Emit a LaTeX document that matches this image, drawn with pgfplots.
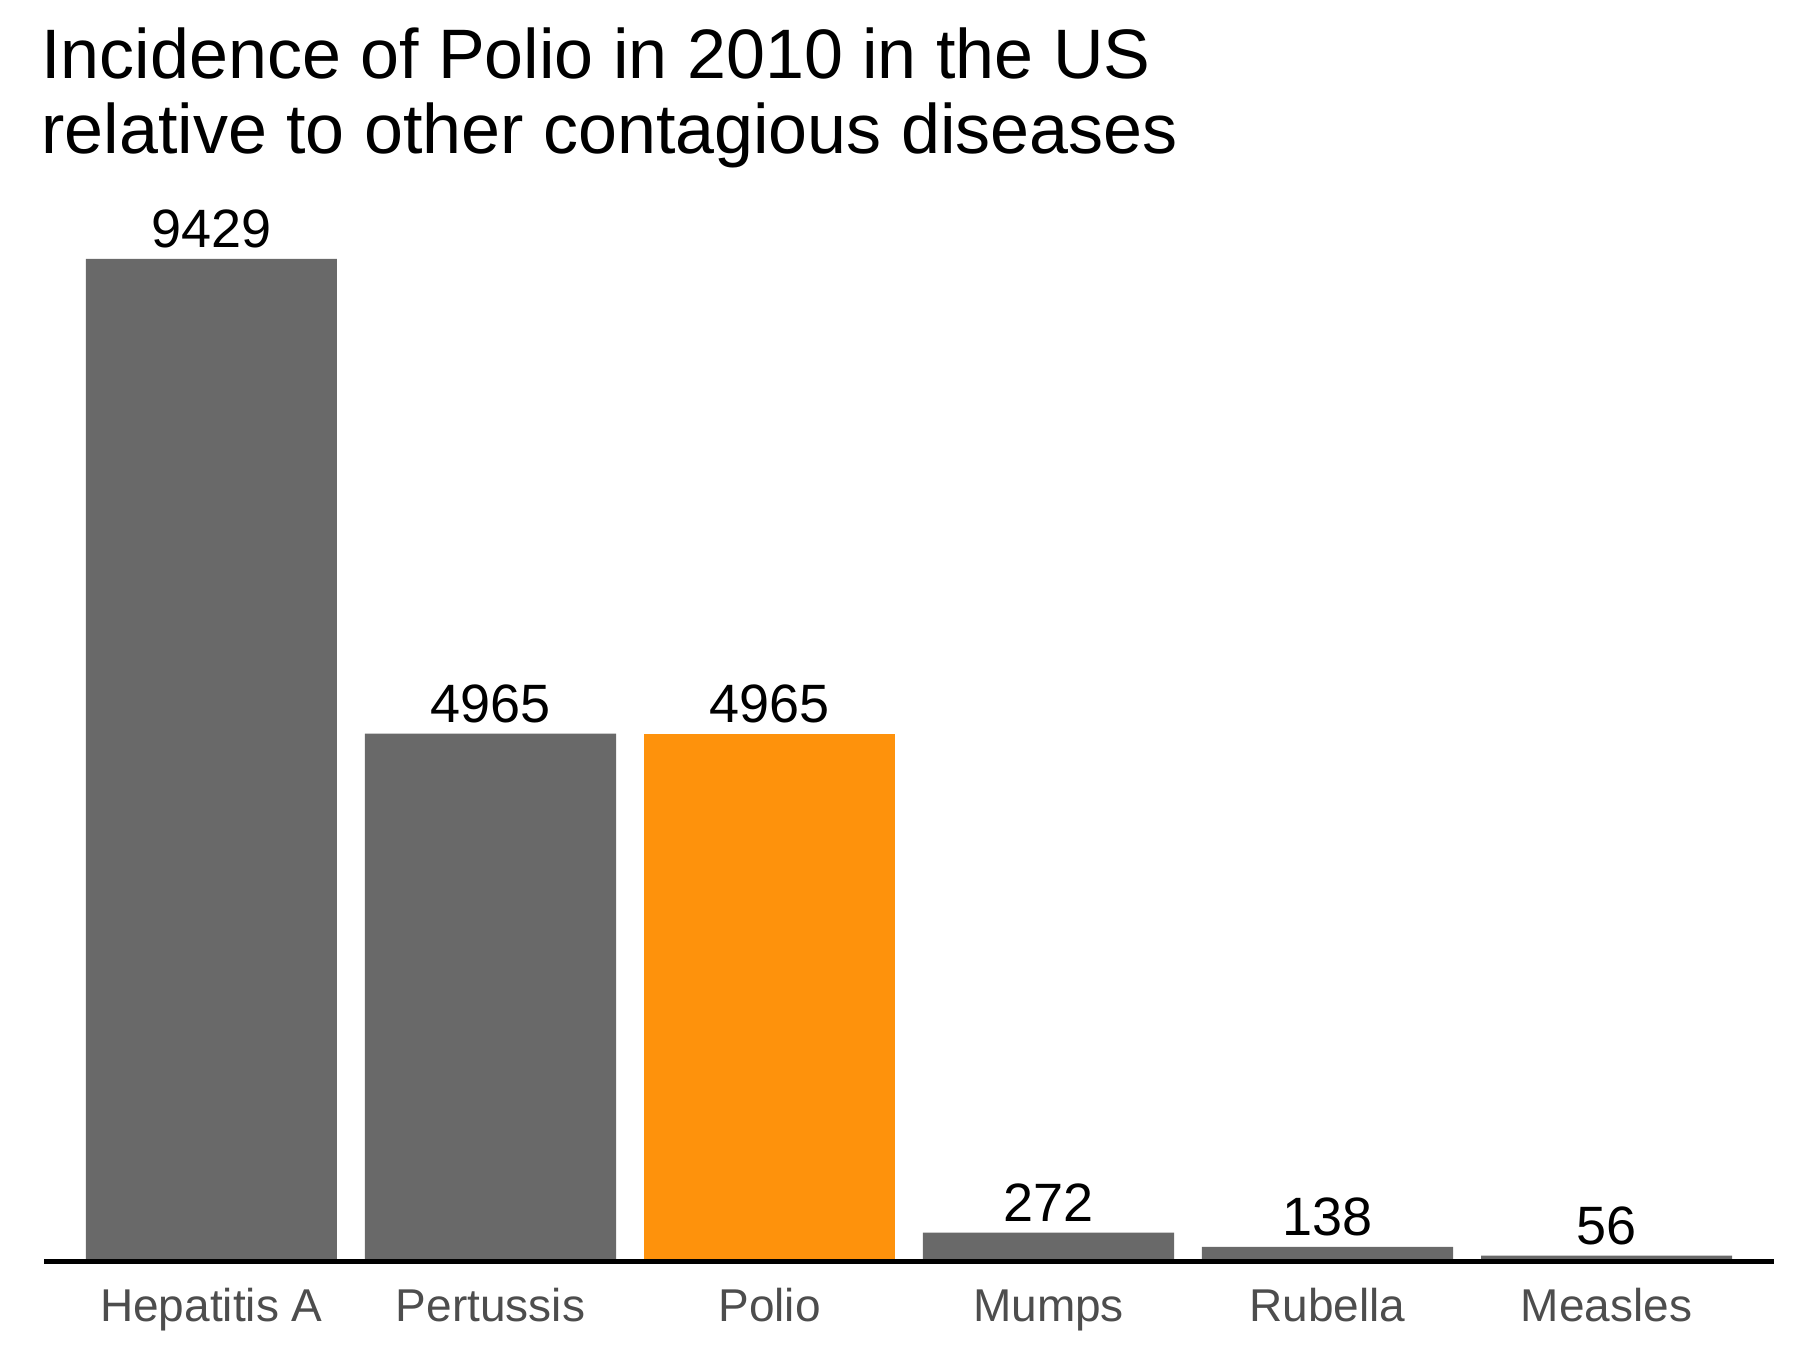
\documentclass[border=0pt]{standalone}
\usepackage{fontspec}
\setmainfont{Liberation Sans}
\usepackage{pgfplots}
\pgfplotsset{compat=1.18}
\definecolor{bargray}{RGB}{105,105,105}
\definecolor{polio}{RGB}{254,146,12}
\definecolor{ticktext}{RGB}{77,77,77}

\begin{document}
\begin{tikzpicture}
  \begin{axis}[
      scale only axis,
      width=518.9pt,
      height=319pt,
      xmin=-0.6, xmax=5.6,
      ymin=0, ymax=10000,
      axis on top,
      axis y line=none,
      axis x line*=bottom,
      axis line style={-, line width=1.5pt, black},
      xtick={0,1,2,3,4,5},
      xticklabels={Hepatitis A,Pertussis,Polio,Mumps,Rubella,Measles},
      xtick style={draw=none},
      xticklabel style={anchor=base, inner sep=0pt, yshift=-13.8pt,
        text=ticktext, font=\fontsize{13.8}{16}\selectfont},
      ybar, bar width=0.9, bar shift=0pt,
      nodes near coords,
      nodes near coords style={/pgf/number format/assume math mode=true,
        /pgf/number format/1000 sep={}},
      every node near coord/.append style={anchor=base, inner sep=0pt,
        yshift=3.3pt, text=black, font=\fontsize{16.2}{19}\selectfont},
      clip=false,
    ]
    \addplot[fill=bargray, draw=none] coordinates {
      (0,9429) (1,4965) (3,272) (4,138) (5,56)};
    \addplot[fill=polio, draw=none] coordinates {(2,4965)};
    \node[anchor=base west, inner sep=0pt, xshift=-1pt, yshift=13.5pt,
      font=\fontsize{21}{24}\selectfont]
      at (rel axis cs:0,1) {relative to other contagious diseases};
    \node[anchor=base west, inner sep=0pt, xshift=-1pt, yshift=36pt,
      font=\fontsize{21}{24}\selectfont]
      at (rel axis cs:0,1) {Incidence of Polio in 2010 in the US};
    \coordinate (bl) at ([xshift=-13.2pt, yshift=-26.7pt]rel axis cs:0,0);
    \coordinate (tr) at ([xshift=8.7pt, yshift=59.4pt]rel axis cs:1,1);
  \end{axis}
  \pgfresetboundingbox
  \path[use as bounding box] (bl) rectangle (tr);
\end{tikzpicture}
\end{document}
